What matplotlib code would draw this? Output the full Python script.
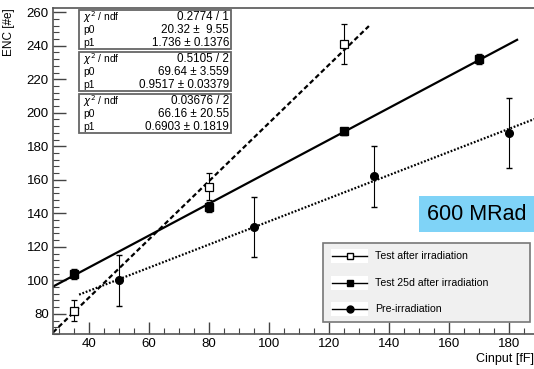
import numpy as np
import matplotlib
matplotlib.use("Agg")
import matplotlib.pyplot as plt
from matplotlib.lines import Line2D
from matplotlib.patches import Rectangle

plt.rcParams['font.family'] = ['Liberation Sans', 'DejaVu Sans']

# test after irradiation (open squares)
cin_after = [35, 80, 125]
enc_after = [82, 156, 241]
err_after = [6, 8, 12]
fit_after = (20.32, 1.736)
range_after = (28, 133.3)

# test 25d after irradiation (filled squares)
cin_25d = [35, 80, 125, 170]
enc_25d = [104, 144, 189, 232]
err_25d = [3, 3, 2, 3]
fit_25d = (69.64, 0.9517)
range_25d = (28, 182.7)

# pre-irradiation (circles)
cin_pre = [50, 95, 135, 180]
enc_pre = [100, 132, 162, 188]
err_pre = [15, 18, 18, 21]
fit_pre = (66.16, 0.6903)
range_pre = (36.7, 190)

stat_rows = [
    [("$\\chi^2$ / ndf", "0.2774 / 1"), ("p0", "20.32 ±  9.55"), ("p1", "1.736 ± 0.1376")],
    [("$\\chi^2$ / ndf", "0.5105 / 2"), ("p0", "69.64 ± 3.559"), ("p1", "0.9517 ± 0.03379")],
    [("$\\chi^2$ / ndf", "0.03676 / 2"), ("p0", "66.16 ± 20.55"), ("p1", "0.6903 ± 0.1819")],
]
labels = ["Test after irradiation", "Test 25d after irradiation", "Pre-irradiation"]

W, H = 534, 369
fig = plt.figure(figsize=(W / 100, H / 100), dpi=100)
ax = fig.add_axes([53 / W, 1 - 334 / H, 483 / W, 326 / H])
ax.set_xlim(28, 189)
ax.set_ylim(68, 262.5)

def fitline(p, rng, ls):
    x = np.linspace(rng[0], rng[1], 50)
    ax.plot(x, p[0] + p[1] * x, color='k', lw=1.6, ls=ls, zorder=2)

fitline(fit_after, range_after, (0, (2.2, 1.3)))
fitline(fit_25d, range_25d, '-')
fitline(fit_pre, range_pre, (0, (0.8, 0.8)))

ax.errorbar(cin_after, enc_after, yerr=err_after, fmt='s', mfc='white', mec='k', mew=0.9,
            ms=5.5, ecolor='k', elinewidth=0.8, capsize=2, zorder=3)
ax.errorbar(cin_25d, enc_25d, yerr=err_25d, fmt='s', color='k', ms=5.5,
            ecolor='k', elinewidth=0.8, capsize=2, zorder=3)
ax.errorbar(cin_pre, enc_pre, yerr=err_pre, fmt='o', color='k', ms=5.5,
            ecolor='k', elinewidth=0.8, capsize=2, zorder=3)

ax.set_xticks(np.arange(40, 181, 20))
ax.set_xticks(np.arange(30, 189, 5), minor=True)
ax.set_yticks(np.arange(80, 261, 20))
ax.set_yticks(np.arange(68, 262, 4), minor=True)
ax.tick_params(which='both', direction='in', top=False, right=False, labelsize=9.5, color='#444')
ax.tick_params(which='major', length=9, width=1, pad=3)
ax.tick_params(which='minor', length=4.5, width=0.8)
for s in ['left', 'bottom', 'top']:
    ax.spines[s].set_color('#555')
    ax.spines[s].set_linewidth(1.2)
ax.spines['right'].set_visible(False)

fig.text(9 / W, 1 - 8 / H, "ENC [#e]", rotation=90, ha='center', va='top', fontsize=8.5)
fig.text(534 / W, 1 - 359 / H, "Cinput [fF]", ha='right', va='center', fontsize=9)

# stat boxes
tops = [10, 52, 94]
for top, rows in zip(tops, stat_rows):
    fig.patches.append(Rectangle((79 / W, 1 - (top + 39) / H), 152 / W, 39 / H,
                                 transform=fig.transFigure, fill=False,
                                 edgecolor='#666', lw=1.3))
    for i, (k, v) in enumerate(rows):
        y = 1 - (top + 7.5 + i * 12.5) / H
        fig.text(83 / W, y, k, ha='left', va='center', fontsize=7.4)
        fig.text(229 / W, y, v, ha='right', va='center', fontsize=8.4)

# legend drawn by hand to match box geometry
fig.patches.append(Rectangle((323 / W, 1 - 322 / H), 207 / W, 79 / H,
                             transform=fig.transFigure, facecolor='#f0f0f0',
                             edgecolor='#777', lw=1.2, zorder=5))
styles = [dict(marker='s', mfc='white', mec='k'), dict(marker='s', mfc='k', mec='k'),
          dict(marker='o', mfc='k', mec='k')]
for i, (lab, st) in enumerate(zip(labels, styles)):
    yc = 256 + i * 26.5
    fig.patches.append(Rectangle((331 / W, 1 - (yc + 7) / H), 37 / W, 14 / H,
                                 transform=fig.transFigure, facecolor='white',
                                 edgecolor='none', zorder=6))
    fig.lines.append(Line2D([332 / W, 367 / W], [1 - yc / H] * 2, transform=fig.transFigure,
                            color='k', lw=1, zorder=7))
    fig.lines.append(Line2D([349.5 / W], [1 - yc / H], transform=fig.transFigure,
                            ls='none', ms=5, zorder=8, **st))
    fig.text(375 / W, 1 - yc / H, lab, ha='left', va='center', fontsize=7.6, zorder=8)

fig.patches.append(Rectangle((419 / W, 1 - 232 / H), 115 / W, 36 / H,
                             transform=fig.transFigure, facecolor='#7fd3f7',
                             edgecolor='none', zorder=5))
fig.text(427 / W, 1 - 214 / H, "600 MRad", ha='left', va='center', fontsize=15.5, zorder=6)

fig.savefig("out.png", dpi=100)
